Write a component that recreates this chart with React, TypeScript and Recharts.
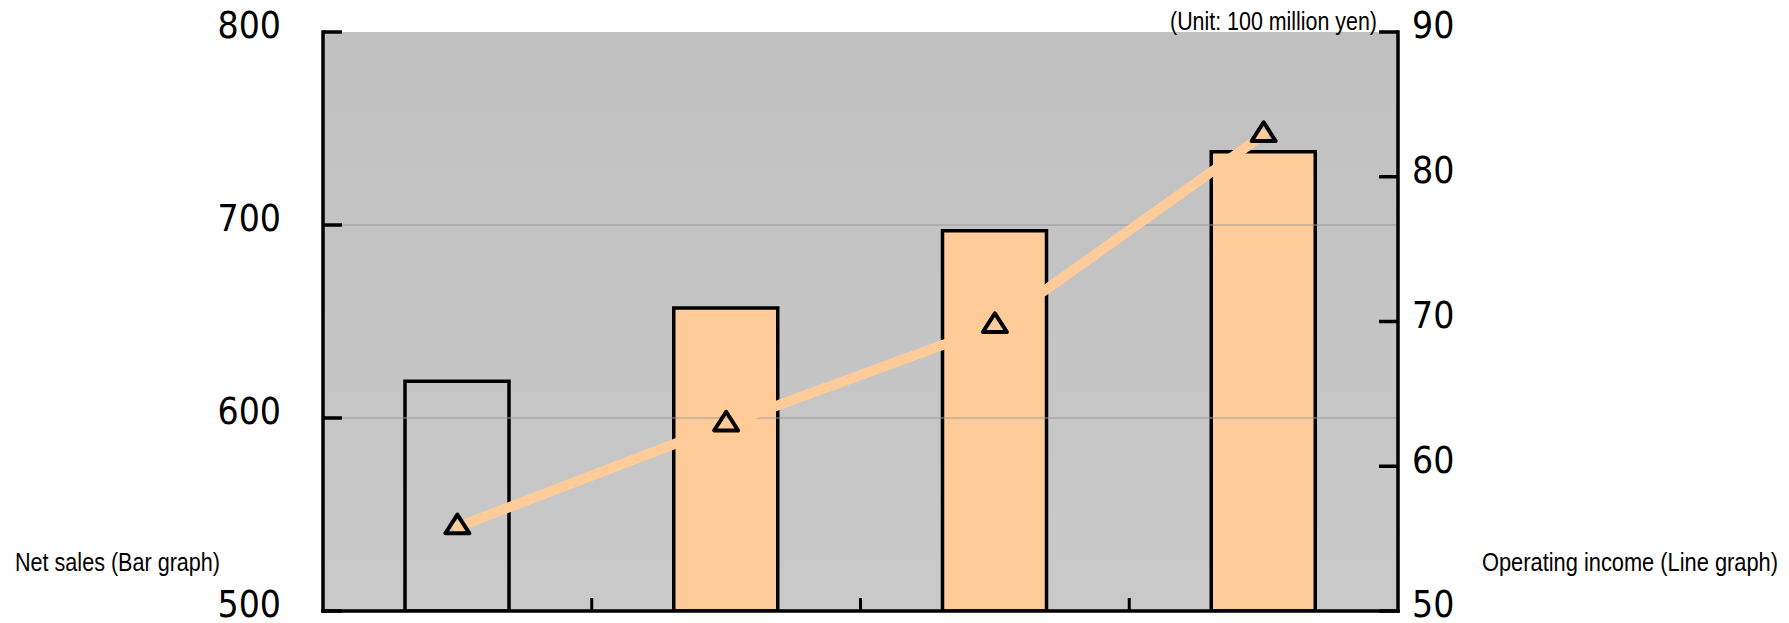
import { Bar, CartesianGrid, Cell, ComposedChart, Line, ReferenceLine, XAxis, YAxis } from "recharts";

const periods = ["FY1", "FY2", "FY3", "FY4"];
const netSales = [619, 657, 697, 738];
const operatingIncome = [55.8, 62.9, 69.7, 82.9];
const hollowBar = [true, false, false, false];

const salesTicks = [500, 600, 700, 800];
const incomeTicks = [50, 60, 70, 80, 90];
const salesGridValues = [600, 700];

const data = periods.map((p, i) => ({ period: p, sales: netSales[i], income: operatingIncome[i] }));

const W = 1789;
const H = 623;
const PLOT_LEFT = 323;
const PLOT_RIGHT = 1398;
const PEACH = "#FFCC99";

const numFont = {
  fontFamily: "'DejaVu Sans Condensed', 'DejaVu Sans', sans-serif",
  fontStretch: "condensed" as const,
  fontSize: 37,
  fill: "#000",
};
const noteFont = {
  fontFamily: "'Liberation Sans Narrow', 'Arial Narrow', 'Liberation Sans', sans-serif",
  fontSize: 26,
  fill: "#000",
};

// ticks point into the plot, labels sit outside
const LeftTick = (props: any) => {
  const { x, y, payload } = props;
  return (
    <g>
      <line x1={x} x2={x + 19} y1={y} y2={y} stroke="#000" strokeWidth={3.5} />
      <text x={x - 42} y={y - 7} dy="0.36em" textAnchor="end" style={numFont}>
        {payload.value}
      </text>
    </g>
  );
};

const RightTick = (props: any) => {
  const { x, y, payload } = props;
  return (
    <g>
      <line x1={x - 19} x2={x} y1={y} y2={y} stroke="#000" strokeWidth={3.5} />
      <text x={x + 14} y={y - 7} dy="0.36em" textAnchor="start" style={numFont}>
        {payload.value}
      </text>
    </g>
  );
};

// short upward marks on the boundary to the right of each period (not after the last)
const PeriodEdgeTick = (props: any) => {
  const { x, y, payload, index } = props;
  if (index >= periods.length - 1) return <g />;
  const half = payload && payload.offset ? payload.offset : (PLOT_RIGHT - PLOT_LEFT) / periods.length / 2;
  const ex = x + half;
  return <line x1={ex} x2={ex} y1={y} y2={y - 13} stroke="#000" strokeWidth={3} />;
};

const TriangleDot = (props: any) => {
  const { cx, cy, index } = props;
  if (cx == null || cy == null) return null;
  return (
    <path
      key={`tri-${index}`}
      d={`M${cx},${cy - 12.5} L${cx + 12},${cy + 6.2} L${cx - 12},${cy + 6.2} Z`}
      fill="none"
      stroke="#000"
      strokeWidth={4}
      strokeLinejoin="round"
    />
  );
};

export default function App() {
  return (
    <div style={{ position: "absolute", left: 0, top: 0, width: W, height: H, background: "#fff" }}>
      <ComposedChart width={W} height={H} data={data} margin={{ top: 32, right: 0, bottom: 11, left: 0 }}>
        <defs>
          <linearGradient id="plotBg" x1="0" y1="0" x2="0" y2="1">
            <stop offset="0%" stopColor="#C0C0C0" />
            <stop offset="100%" stopColor="#C9C9C9" />
          </linearGradient>
        </defs>
        <CartesianGrid horizontal={false} vertical={false} fill="url(#plotBg)" xAxisId="cat" yAxisId="left" />
        <XAxis
          xAxisId="cat"
          dataKey="period"
          height={1}
          tickSize={0}
          tickMargin={0}
          interval={0}
          tick={<PeriodEdgeTick />}
          tickLine={false}
          axisLine={{ stroke: "#000", strokeWidth: 3.5, strokeLinecap: "square" }}
        />
        <YAxis
          yAxisId="left"
          orientation="left"
          width={PLOT_LEFT}
          domain={[500, 800]}
          ticks={salesTicks}
          tickSize={0}
          tickMargin={0}
          tick={<LeftTick />}
          tickLine={false}
          axisLine={{ stroke: "#000", strokeWidth: 3.5, strokeLinecap: "square" }}
          allowDataOverflow
        />
        <YAxis
          yAxisId="right"
          orientation="right"
          width={W - PLOT_RIGHT}
          domain={[50, 90]}
          ticks={incomeTicks}
          tickSize={0}
          tickMargin={0}
          tick={<RightTick />}
          tickLine={false}
          axisLine={{ stroke: "#000", strokeWidth: 3.5, strokeLinecap: "square" }}
          allowDataOverflow
        />
        {salesGridValues.map((v) => (
          <ReferenceLine key={v} xAxisId="cat" yAxisId="left" y={v} stroke="#9A9A9A" strokeWidth={1.2} />
        ))}
        <Bar xAxisId="cat" yAxisId="left" dataKey="sales" barSize={104} stroke="#000" strokeWidth={3.5} isAnimationActive={false}>
          {data.map((d, i) => (
            <Cell key={d.period} fill={hollowBar[i] ? "none" : PEACH} />
          ))}
        </Bar>
        <Line
          xAxisId="cat"
          yAxisId="right"
          type="linear"
          dataKey="income"
          stroke={PEACH}
          strokeWidth={10}
          strokeLinecap="round"
          dot={<TriangleDot />}
          activeDot={false}
          isAnimationActive={false}
        />
      </ComposedChart>
      <svg width={W} height={H} style={{ position: "absolute", left: 0, top: 0, pointerEvents: "none" }}>
        <text x={1170} y={30} textLength={207} lengthAdjust="spacingAndGlyphs" style={noteFont}>
          (Unit: 100 million yen)
        </text>
        <text x={15} y={571} textLength={205} lengthAdjust="spacingAndGlyphs" style={noteFont}>
          Net sales (Bar graph)
        </text>
        <text x={1482} y={571} textLength={296} lengthAdjust="spacingAndGlyphs" style={noteFont}>
          Operating income (Line graph)
        </text>
      </svg>
    </div>
  );
}
